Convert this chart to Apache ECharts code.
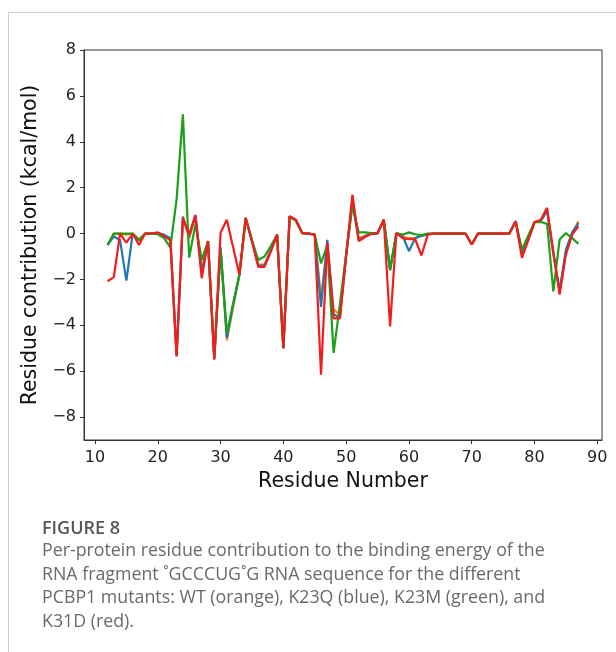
<!DOCTYPE html>
<html>
<head>
<meta charset="utf-8">
<script src="https://cdn.jsdelivr.net/npm/echarts@6/dist/echarts.min.js"></script>
<style>
  html, body { margin: 0; padding: 0; background: #fff; }
  #wrap { position: relative; width: 616px; height: 652px; overflow: hidden; }
  #chart { position: absolute; left: 0; top: 0; width: 616px; height: 652px; }
  .frameTop { position: absolute; left: 8px; top: 12px; width: 608px; height: 1px; background: #cfcfcf; }
  .frameLeft { position: absolute; left: 8px; top: 12px; width: 1px; height: 640px; background: #cfcfcf; }
  .caption { position: absolute; left: 42px; font-family: "Open Sans", sans-serif; color: #6a6a6a; }
  .figTitle { top: 515px; font-size: 18px; font-weight: 600; color: #585858; }
  .figText { top: 538px; font-size: 17.8px; line-height: 23.7px; width: 570px; }
</style>
</head>
<body>
<div id="wrap">
  <div id="chart"></div>
  <div class="frameTop"></div>
  <div class="frameLeft"></div>
  <div class="caption figTitle">FIGURE 8</div>
  <div class="caption figText">Per-protein residue contribution to the binding energy of the<br>RNA fragment ˚GCCCUG˚G RNA sequence for the different<br>PCBP1 mutants: WT (orange), K23Q (blue), K23M (green), and<br>K31D (red).</div>
</div>
<script>
// residue numbers 12..87
var residues = [];
for (var r = 12; r <= 87; r++) residues.push(r);

// values (kcal/mol), one per residue
var wt = [
  -0.5, 0, 0, -0.05, 0, -0.25, 0, 0, 0.02, -0.1,
  -0.25, -5.35, 0.75, -0.2, 0.75, -1.6, -0.33, -5.45, -0.6, -4.65,
  -3.2, -1.8, 0.68, -0.3, -1.35, -1.35, -0.7, -0.05, -5.0, 0.75,
  0.58, 0.02, 0, -0.05, -2.8, -0.5, -3.3, -3.55, -0.9, 1.5,
  -0.2, -0.1, 0, 0, 0.6, -1.6, 0, -0.15, -0.2, -0.2,
  -0.1, -0.03, 0, 0, 0, 0, 0, 0, -0.48, 0,
  0, 0, 0, 0, 0, 0.54, -0.9, -0.25, 0.5, 0.55,
  1.0, -0.9, -2.5, -0.8, 0, 0.54
];
var k23q = [
  -0.5, -0.12, -0.3, -2.05, 0, -0.3, 0, 0, 0.02, -0.05,
  -0.2, -5.3, 0.7, -0.1, 0.8, -1.7, -0.33, -5.45, -0.6, -4.55,
  -3.1, -1.8, 0.68, -0.3, -1.4, -1.4, -0.75, -0.05, -5.0, 0.75,
  0.58, 0.02, 0, -0.05, -3.2, -0.28, -3.5, -3.7, -0.95, 1.4,
  -0.3, -0.12, 0, 0, 0.6, -1.6, 0, -0.1, -0.77, -0.2,
  -0.1, -0.03, 0, 0, 0, 0, 0, 0, -0.48, 0,
  0, 0, 0, 0, 0, 0.54, -0.9, -0.25, 0.5, 0.55,
  1.0, -0.85, -2.5, -0.7, 0.05, 0.45
];
var k23m = [
  -0.5, 0, 0, 0, 0, -0.3, 0, 0, -0.03, -0.2,
  -0.6, 1.5, 5.2, -1.05, 0.4, -1.15, -0.33, -5.4, -0.7, -4.35,
  -3.05, -1.8, 0.68, -0.3, -1.15, -1.0, -0.55, -0.05, -5.0, 0.73,
  0.55, 0.02, 0, -0.05, -1.3, -0.5, -5.2, -3.1, -0.9, 1.2,
  0.05, 0.05, 0.02, 0.02, 0.6, -1.57, 0.02, -0.05, 0.05, -0.03,
  -0.07, 0, 0, 0, 0, 0, 0, 0, -0.48, 0,
  0, 0, 0, 0, 0, 0.54, -0.7, -0.1, 0.5, 0.5,
  0.42, -2.52, -0.26, 0.02, -0.2, -0.45
];
var k31d = [
  -2.08, -1.9, 0, -0.4, 0, -0.5, 0, 0, 0.05, -0.1,
  -0.3, -5.36, 0.65, -0.05, 0.8, -1.95, -0.33, -5.5, 0.03, 0.6,
  -0.6, -1.8, 0.68, -0.35, -1.45, -1.45, -0.8, -0.05, -5.0, 0.75,
  0.6, 0.02, 0, -0.05, -6.15, -0.4, -3.7, -3.7, -1.0, 1.7,
  -0.33, -0.15, -0.02, 0.02, 0.6, -4.05, 0.02, -0.2, -0.25, -0.25,
  -0.96, -0.05, 0, 0, 0, 0, 0, 0, -0.48, 0,
  0, 0, 0, 0, 0, 0.54, -1.06, -0.3, 0.49, 0.6,
  1.12, -0.8, -2.66, -0.92, -0.05, 0.32
];

var xTicks = [10, 20, 30, 40, 50, 60, 70, 80, 90];
var yTicks = [-8, -6, -4, -2, 0, 2, 4, 6, 8];

function pairs(vals) {
  return residues.map(function (r, i) { return [r, vals[i]]; });
}

function line(name, vals, color) {
  return {
    name: name,
    type: "line",
    data: pairs(vals),
    symbol: "none",
    lineStyle: { width: 2.2, color: color },
    itemStyle: { color: color },
    animation: false
  };
}

var chart = echarts.init(document.getElementById("chart"));
var axisFont = { fontFamily: "DejaVu Sans", fontSize: 16, color: "#222" };

chart.setOption({
  grid: {
    left: 84, right: 14, top: 50, bottom: 212,
    show: true, borderColor: "#333", borderWidth: 1, backgroundColor: "transparent"
  },
  xAxis: {
    type: "value",
    min: 8.25,
    max: 90.75,
    name: "Residue Number",
    nameLocation: "middle",
    nameGap: 31,
    nameTextStyle: { fontFamily: "DejaVu Sans", fontSize: 20.5, color: "#111" },
    axisLine: { show: true, onZero: false, lineStyle: { color: "#333", width: 1 } },
    axisTick: { show: true, length: 4, customValues: xTicks, lineStyle: { color: "#333" } },
    axisLabel: Object.assign({ customValues: xTicks, margin: 10 }, axisFont),
    splitLine: { show: false }
  },
  yAxis: {
    type: "value",
    min: -9,
    max: 8,
    name: "Residue contribution (kcal/mol)",
    nameLocation: "middle",
    nameGap: 43,
    nameTextStyle: { fontFamily: "DejaVu Sans", fontSize: 20.5, color: "#111" },
    axisLine: { show: true, onZero: false, lineStyle: { color: "#333", width: 1 } },
    axisTick: { show: true, length: 4, customValues: yTicks, lineStyle: { color: "#333" } },
    axisLabel: Object.assign({
      customValues: yTicks,
      margin: 8,
      formatter: function (v) { return v < 0 ? "\u2212" + (-v) : String(v); }
    }, axisFont),
    splitLine: { show: false }
  },
  series: [
    line("WT", wt, "#ff7f0e"),
    line("K23Q", k23q, "#1f77b4"),
    line("K23M", k23m, "#1aa01a"),
    line("K31D", k31d, "#f41c1c")
  ]
});
</script>
</body>
</html>
